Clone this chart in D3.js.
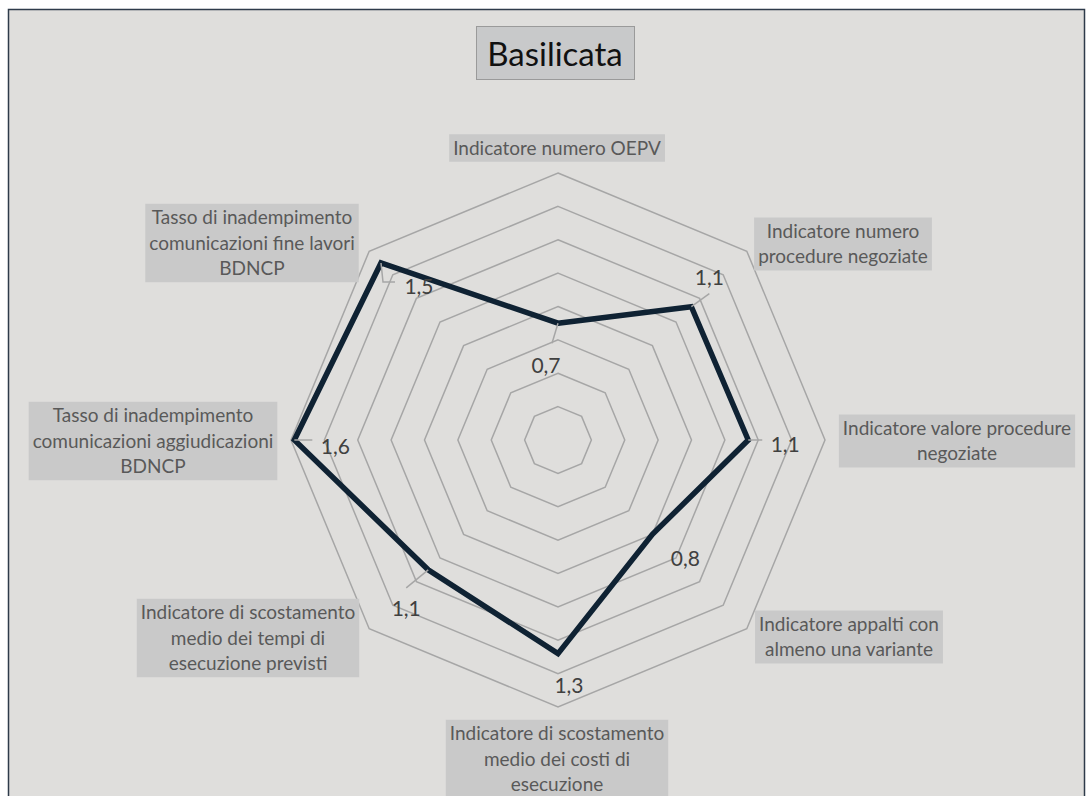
<!DOCTYPE html>
<html>
<head>
<meta charset="utf-8">
<script src="https://cdn.jsdelivr.net/npm/d3@7"></script>
<style>
  body { margin: 0; background: #fff; }
  svg { display: block; font-family: Lato, "Open Sans", sans-serif; }
</style>
</head>
<body>
<div id="chart"></div>
<script>
// Data
const title = "Basilicata";
const axes = [
    ["Indicatore numero OEPV"],
    ["Indicatore numero", "procedure negoziate"],
    ["Indicatore valore procedure", "negoziate"],
    ["Indicatore appalti con", "almeno una variante"],
    ["Indicatore di scostamento", "medio dei costi di", "esecuzione"],
    ["Indicatore di scostamento", "medio dei tempi di", "esecuzione previsti"],
    ["Tasso di inadempimento", "comunicazioni aggiudicazioni", "BDNCP"],
    ["Tasso di inadempimento", "comunicazioni fine lavori", "BDNCP"]
];
const values = [0.70, 1.13, 1.14, 0.80, 1.28, 1.10, 1.58, 1.50];
const scaleMax = 1.6;
const ringStep = 0.2;

// Layout tweaks (label placement relative to chart centre / data point)
const axisLabelPos = [[-1, -292], [285, -196], [399, 1], [291, 197], [-1, 319], [-310, 198], [-405, 1], [-306, -197]];
const valueLabelOff = [[-12, 41], [18, -30], [37, 3], [33, 23], [11, 31], [-22, 38], [41, 5], [38, 22]];
const leaders = [
    [[0, 0], [-6, 20]],
    [[0, 0], [18, -13]],
    [[0, 0], [14, 0]],
    null,
    null,
    [[0, 0], [-22, 18]],
    [[0, 0], [18, 0]],
    [[0, 0], [2, 19], [14, 19]]
];

const width = 1092, height = 796;
const cx = 558, cy = 440, R = 267;

const svg = d3.select("#chart").append("svg")
    .attr("width", width)
    .attr("height", height);

// chart area
svg.append("rect")
    .attr("x", 8.5).attr("y", 9.5)
    .attr("width", 1076).attr("height", 800)
    .attr("fill", "#dfdedc")
    .attr("stroke", "#2e3b4a")
    .attr("stroke-width", 1.5);

// title
const tg = svg.append("g");
tg.append("rect")
    .attr("x", 476.5).attr("y", 26.5)
    .attr("width", 158).attr("height", 53)
    .attr("fill", "#c8c9ca")
    .attr("stroke", "#9a9a9a");
tg.append("text")
    .attr("x", 555).attr("y", 53)
    .attr("text-anchor", "middle")
    .attr("dominant-baseline", "central")
    .attr("font-size", 33)
    .attr("fill", "#111")
    .text(title);

const r = d3.scaleLinear().domain([0, scaleMax]).range([0, R]);
const n = axes.length;
const angle = i => i * 2 * Math.PI / n;
const pt = (i, v) => [cx + r(v) * Math.sin(angle(i)), cy - r(v) * Math.cos(angle(i))];

const g = svg.append("g");

// rings
const rings = d3.range(ringStep, scaleMax + 1e-9, ringStep);
g.selectAll(".ring")
    .data(rings)
    .enter()
    .append("polygon")
    .attr("class", "ring")
    .attr("points", v => d3.range(n).map(i => pt(i, v).join(",")).join(" "))
    .attr("fill", "none")
    .attr("stroke", "#a6a6a6")
    .attr("stroke-width", 1.5);

// axis labels
const fmt = d3.formatLocale({ decimal: ",", thousands: ".", grouping: [3], currency: ["", "€"] }).format(".1f");

axes.forEach((lines, i) => {
    const [ox, oy] = axisLabelPos[i];
    const lg = g.append("g").attr("transform", `translate(${cx + ox},${cy + oy})`);
    const lh = 25.5;
    const t = lg.append("text")
        .attr("text-anchor", "middle")
        .attr("font-size", 19)
        .attr("fill", "#595959");
    lines.forEach((s, k) => {
        t.append("tspan")
            .attr("x", 0)
            .attr("y", (k - (lines.length - 1) / 2) * lh)
            .attr("dy", "0.35em")
            .text(s);
    });
    const bb = t.node().getBBox();
    lg.insert("rect", "text")
        .attr("x", bb.x - 4).attr("y", -lines.length * lh / 2 - 1)
        .attr("width", bb.width + 8).attr("height", lines.length * lh + 2)
        .attr("fill", "#c9c9c9");
});

// series line
const line = d3.lineRadial()
    .angle((d, i) => angle(i))
    .radius(d => r(d))
    .curve(d3.curveLinearClosed);

g.append("path")
    .datum(values)
    .attr("transform", `translate(${cx},${cy})`)
    .attr("d", line)
    .attr("fill", "none")
    .attr("stroke", "#0f2233")
    .attr("stroke-width", 5.5)
    .attr("stroke-linejoin", "miter");

// leader lines
values.forEach((v, i) => {
    if (!leaders[i]) return;
    const [px, py] = pt(i, v);
    g.append("path")
        .attr("d", d3.line()(leaders[i].map(([dx, dy]) => [px + dx, py + dy])))
        .attr("fill", "none")
        .attr("stroke", "#a6a6a6")
        .attr("stroke-width", 1.5);
});

// value labels
g.selectAll(".vlabel")
    .data(values)
    .enter()
    .append("text")
    .attr("class", "vlabel")
    .attr("x", (d, i) => pt(i, d)[0] + valueLabelOff[i][0])
    .attr("y", (d, i) => pt(i, d)[1] + valueLabelOff[i][1])
    .attr("text-anchor", "middle")
    .attr("dominant-baseline", "central")
    .attr("font-size", 21)
    .attr("fill", "#404040")
    .text(d => fmt(d));
</script>
</body>
</html>
